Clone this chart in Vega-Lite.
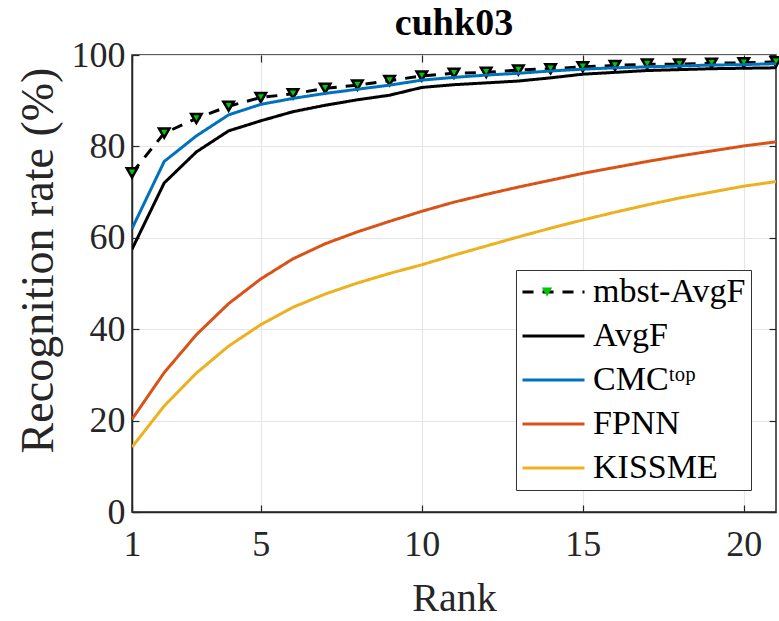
{
  "$schema": "https://vega.github.io/schema/vega-lite/v6.json",
  "width": 644,
  "height": 457,
  "autosize": {"type": "none"},
  "padding": {"left": 132, "top": 55, "right": 3, "bottom": 109},
  "background": "white",
  "title": {"text": "cuhk03", "font": "Liberation Serif", "fontSize": 38, "fontWeight": "bold", "color": "black", "offset": -6, "anchor": "middle"},
  "config": {
    "view": {"stroke": "#262626", "strokeWidth": 1.5},
    "axis": {"labelFont": "Liberation Serif", "titleFont": "Liberation Serif", "labelColor": "#262626", "titleColor": "#262626", "titleFontWeight": "normal", "domainColor": "#262626", "tickColor": "#262626", "domainWidth": 1.5, "tickWidth": 1.2, "gridColor": "#e6e6e6", "gridWidth": 1.2}
  },
  "datasets": {
    "cmc": [
      {"rank": 1, "s": "mbst-AvgF", "v": 74.2}, {"rank": 2, "s": "mbst-AvgF", "v": 82.9}, {"rank": 3, "s": "mbst-AvgF", "v": 86.1}, {"rank": 4, "s": "mbst-AvgF", "v": 88.8}, {"rank": 5, "s": "mbst-AvgF", "v": 90.7}, {"rank": 6, "s": "mbst-AvgF", "v": 91.5}, {"rank": 7, "s": "mbst-AvgF", "v": 92.7}, {"rank": 8, "s": "mbst-AvgF", "v": 93.4}, {"rank": 9, "s": "mbst-AvgF", "v": 94.4}, {"rank": 10, "s": "mbst-AvgF", "v": 95.4}, {"rank": 11, "s": "mbst-AvgF", "v": 96.0}, {"rank": 12, "s": "mbst-AvgF", "v": 96.2}, {"rank": 13, "s": "mbst-AvgF", "v": 96.7}, {"rank": 14, "s": "mbst-AvgF", "v": 97.0}, {"rank": 15, "s": "mbst-AvgF", "v": 97.4}, {"rank": 16, "s": "mbst-AvgF", "v": 97.7}, {"rank": 17, "s": "mbst-AvgF", "v": 98.0}, {"rank": 18, "s": "mbst-AvgF", "v": 98.0}, {"rank": 19, "s": "mbst-AvgF", "v": 98.2}, {"rank": 20, "s": "mbst-AvgF", "v": 98.3}, {"rank": 21, "s": "mbst-AvgF", "v": 98.5},
      {"rank": 1, "s": "AvgF", "v": 57.5}, {"rank": 2, "s": "AvgF", "v": 72.0}, {"rank": 3, "s": "AvgF", "v": 78.8}, {"rank": 4, "s": "AvgF", "v": 83.4}, {"rank": 5, "s": "AvgF", "v": 85.6}, {"rank": 6, "s": "AvgF", "v": 87.6}, {"rank": 7, "s": "AvgF", "v": 89.0}, {"rank": 8, "s": "AvgF", "v": 90.2}, {"rank": 9, "s": "AvgF", "v": 91.2}, {"rank": 10, "s": "AvgF", "v": 92.9}, {"rank": 11, "s": "AvgF", "v": 93.5}, {"rank": 12, "s": "AvgF", "v": 93.9}, {"rank": 13, "s": "AvgF", "v": 94.3}, {"rank": 14, "s": "AvgF", "v": 95.0}, {"rank": 15, "s": "AvgF", "v": 95.8}, {"rank": 16, "s": "AvgF", "v": 96.2}, {"rank": 17, "s": "AvgF", "v": 96.6}, {"rank": 18, "s": "AvgF", "v": 96.8}, {"rank": 19, "s": "AvgF", "v": 97.0}, {"rank": 20, "s": "AvgF", "v": 97.1}, {"rank": 21, "s": "AvgF", "v": 97.2},
      {"rank": 1, "s": "CMCᵗᵒᵖ", "v": 62.0}, {"rank": 2, "s": "CMCᵗᵒᵖ", "v": 76.7}, {"rank": 3, "s": "CMCᵗᵒᵖ", "v": 82.3}, {"rank": 4, "s": "CMCᵗᵒᵖ", "v": 86.9}, {"rank": 5, "s": "CMCᵗᵒᵖ", "v": 89.2}, {"rank": 6, "s": "CMCᵗᵒᵖ", "v": 90.5}, {"rank": 7, "s": "CMCᵗᵒᵖ", "v": 91.6}, {"rank": 8, "s": "CMCᵗᵒᵖ", "v": 92.5}, {"rank": 9, "s": "CMCᵗᵒᵖ", "v": 93.4}, {"rank": 10, "s": "CMCᵗᵒᵖ", "v": 94.5}, {"rank": 11, "s": "CMCᵗᵒᵖ", "v": 95.1}, {"rank": 12, "s": "CMCᵗᵒᵖ", "v": 95.6}, {"rank": 13, "s": "CMCᵗᵒᵖ", "v": 96.0}, {"rank": 14, "s": "CMCᵗᵒᵖ", "v": 96.5}, {"rank": 15, "s": "CMCᵗᵒᵖ", "v": 96.9}, {"rank": 16, "s": "CMCᵗᵒᵖ", "v": 97.2}, {"rank": 17, "s": "CMCᵗᵒᵖ", "v": 97.4}, {"rank": 18, "s": "CMCᵗᵒᵖ", "v": 97.6}, {"rank": 19, "s": "CMCᵗᵒᵖ", "v": 97.8}, {"rank": 20, "s": "CMCᵗᵒᵖ", "v": 97.9}, {"rank": 21, "s": "CMCᵗᵒᵖ", "v": 98.1},
      {"rank": 1, "s": "FPNN", "v": 20.3}, {"rank": 2, "s": "FPNN", "v": 30.5}, {"rank": 3, "s": "FPNN", "v": 38.8}, {"rank": 4, "s": "FPNN", "v": 45.6}, {"rank": 5, "s": "FPNN", "v": 51.0}, {"rank": 6, "s": "FPNN", "v": 55.4}, {"rank": 7, "s": "FPNN", "v": 58.7}, {"rank": 8, "s": "FPNN", "v": 61.3}, {"rank": 9, "s": "FPNN", "v": 63.6}, {"rank": 10, "s": "FPNN", "v": 65.8}, {"rank": 11, "s": "FPNN", "v": 67.8}, {"rank": 12, "s": "FPNN", "v": 69.5}, {"rank": 13, "s": "FPNN", "v": 71.1}, {"rank": 14, "s": "FPNN", "v": 72.6}, {"rank": 15, "s": "FPNN", "v": 74.1}, {"rank": 16, "s": "FPNN", "v": 75.4}, {"rank": 17, "s": "FPNN", "v": 76.7}, {"rank": 18, "s": "FPNN", "v": 77.9}, {"rank": 19, "s": "FPNN", "v": 79.0}, {"rank": 20, "s": "FPNN", "v": 80.1}, {"rank": 21, "s": "FPNN", "v": 81.0},
      {"rank": 1, "s": "KISSME", "v": 14.2}, {"rank": 2, "s": "KISSME", "v": 23.2}, {"rank": 3, "s": "KISSME", "v": 30.4}, {"rank": 4, "s": "KISSME", "v": 36.3}, {"rank": 5, "s": "KISSME", "v": 41.0}, {"rank": 6, "s": "KISSME", "v": 44.8}, {"rank": 7, "s": "KISSME", "v": 47.7}, {"rank": 8, "s": "KISSME", "v": 50.1}, {"rank": 9, "s": "KISSME", "v": 52.2}, {"rank": 10, "s": "KISSME", "v": 54.1}, {"rank": 11, "s": "KISSME", "v": 56.2}, {"rank": 12, "s": "KISSME", "v": 58.2}, {"rank": 13, "s": "KISSME", "v": 60.2}, {"rank": 14, "s": "KISSME", "v": 62.1}, {"rank": 15, "s": "KISSME", "v": 63.9}, {"rank": 16, "s": "KISSME", "v": 65.6}, {"rank": 17, "s": "KISSME", "v": 67.2}, {"rank": 18, "s": "KISSME", "v": 68.7}, {"rank": 19, "s": "KISSME", "v": 70.0}, {"rank": 20, "s": "KISSME", "v": 71.3}, {"rank": 21, "s": "KISSME", "v": 72.3}
    ]
  },
  "data": {"name": "cmc"},
  "layer": [
    {
      "layer": [
        {
          "transform": [{"filter": "datum.s === 'mbst-AvgF'"}],
          "mark": {"type": "line", "strokeWidth": 3, "clip": true},
          "encoding": {
            "x": {"field": "rank", "type": "quantitative", "scale": {"domain": [1, 21], "nice": false, "zero": false},
              "axis": {"values": [1, 5, 10, 15, 20], "title": "Rank", "labelFontSize": 36, "titleFontSize": 40, "grid": true, "tickSize": -7, "labelPadding": 22, "titlePadding": 16, "labelFlush": false}},
            "y": {"field": "v", "type": "quantitative", "scale": {"domain": [0, 100], "nice": false},
              "axis": {"values": [0, 20, 40, 60, 80, 100], "title": "Recognition rate (%)", "labelFontSize": 36, "titleFontSize": 46, "grid": true, "tickSize": -7, "labelPadding": 14, "titlePadding": 9, "titleY": 205}},
            "color": {"field": "s", "type": "nominal", "sort": null,
              "scale": {"domain": ["mbst-AvgF", "AvgF", "CMCᵗᵒᵖ", "FPNN", "KISSME"], "range": ["#000000", "#000000", "#0072BD", "#D95319", "#EDB120"]},
              "legend": {"orient": "none", "legendX": 384, "legendY": 215, "title": null, "labelFont": "Liberation Serif", "labelFontSize": 34, "labelColor": "black", "symbolType": "M-1,0H3", "symbolSize": 961, "symbolStrokeWidth": 3, "rowPadding": 10, "padding": 5, "strokeColor": "#333333", "fillColor": "white", "labelOffset": 38, "labelLimit": 300}},
            "strokeDash": {"field": "s", "type": "nominal", "sort": null,
              "scale": {"domain": ["mbst-AvgF", "AvgF", "CMCᵗᵒᵖ", "FPNN", "KISSME"], "range": [[11, 9], [1, 0], [1, 0], [1, 0], [1, 0]]},
              "legend": {"orient": "none", "legendX": 384, "legendY": 215, "title": null, "labelFont": "Liberation Serif", "labelFontSize": 34, "labelColor": "black", "symbolType": "M-1,0H3", "symbolSize": 961, "symbolStrokeWidth": 3, "rowPadding": 10, "padding": 5, "strokeColor": "#333333", "fillColor": "white", "labelOffset": 38, "labelLimit": 300}}
          }
        },
        {
          "transform": [{"filter": "datum.s === 'mbst-AvgF'"}],
          "mark": {"type": "point", "filled": true, "fill": "#00c800", "stroke": "black", "strokeWidth": 2.5, "size": 110, "opacity": 1},
          "encoding": {
            "x": {"field": "rank", "type": "quantitative"},
            "y": {"field": "v", "type": "quantitative"},
            "shape": {"field": "s", "type": "nominal", "scale": {"domain": ["mbst-AvgF"], "range": ["triangle-down"]},
              "legend": {"orient": "none", "legendX": 393, "legendY": 215, "title": null, "labelExpr": "''", "symbolFillColor": "#00c800", "symbolStrokeColor": "black", "symbolStrokeWidth": 2.5, "symbolSize": 110, "padding": 5, "labelFontSize": 34}}
          }
        },
        {
          "transform": [{"filter": "datum.s !== 'mbst-AvgF'"}],
          "mark": {"type": "line", "strokeWidth": 3, "clip": true},
          "encoding": {
            "x": {"field": "rank", "type": "quantitative"},
            "y": {"field": "v", "type": "quantitative"},
            "color": {"field": "s", "type": "nominal", "sort": null},
            "strokeDash": {"field": "s", "type": "nominal", "sort": null}
          }
        }
      ]
    },
    {
      "mark": {"type": "point", "opacity": 0},
      "encoding": {
        "x": {"field": "rank", "type": "quantitative", "scale": {"domain": [1, 21], "nice": false, "zero": false},
          "axis": {"orient": "top", "values": [1, 5, 10, 15, 20], "labels": false, "title": null, "grid": false, "domain": false, "tickSize": -7}},
        "y": {"field": "v", "type": "quantitative", "scale": {"domain": [0, 100], "nice": false},
          "axis": {"orient": "right", "values": [0, 20, 40, 60, 80, 100], "labels": false, "title": null, "grid": false, "domain": false, "tickSize": -7}}
      }
    }
  ],
  "resolve": {"scale": {"x": "independent", "y": "independent"}, "axis": {"x": "independent", "y": "independent"}}
}
